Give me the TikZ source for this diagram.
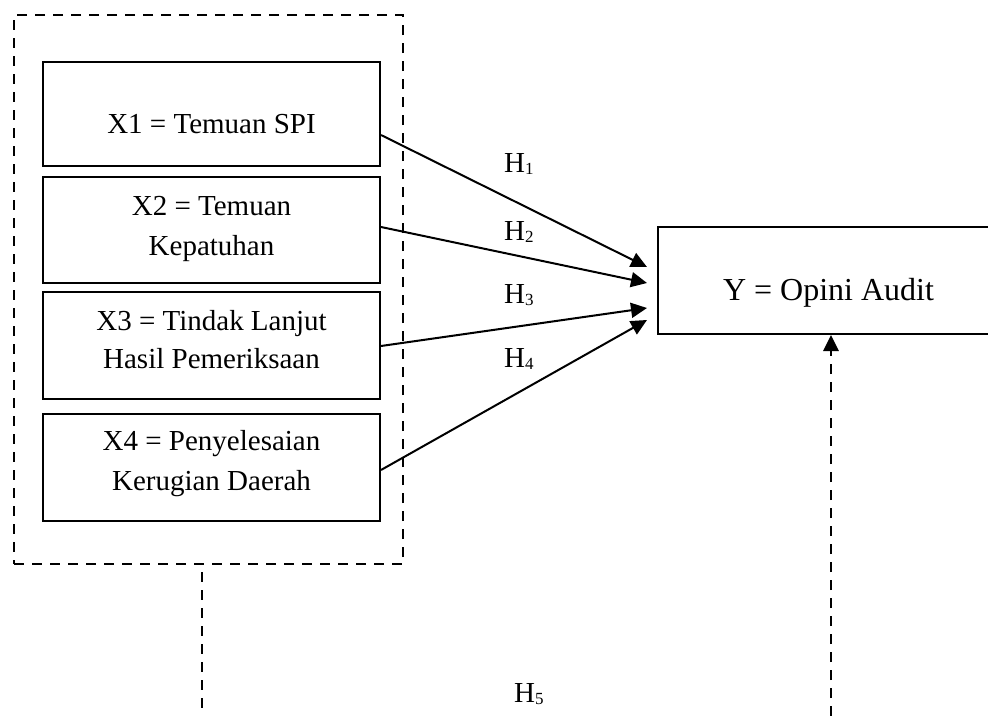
\documentclass[tikz,border=0pt]{standalone}
\usepackage{fontspec}
\setmainfont{Liberation Serif}
\usetikzlibrary{arrows.meta}
\newcommand{\hsub}[1]{H\raisebox{-2.5pt}{\fontsize{17}{17}\selectfont #1}}
\begin{document}
\begin{tikzpicture}[x=1pt,y=-1pt,
  box/.style={draw, line width=2pt, inner sep=0pt},
  lbl/.style={anchor=base, inner sep=0pt, font=\fontsize{29}{39}\selectfont},
  hl/.style={anchor=base west, inner sep=0pt, font=\fontsize{29}{39}\selectfont},
  arr/.style={line width=2pt, -{Triangle[length=16pt,width=15pt]}},
  dsh/.style={line width=2.8pt, dash pattern=on 10pt off 8pt}]
\clip (0,0) rectangle (988,715);
\useasboundingbox (0,0) rectangle (988,715);

% group (dashed)
\node[draw, dsh, inner sep=0pt, minimum width=389pt, minimum height=549pt] (grp) at (208.5,289.5) {};

% boxes
\node[box, minimum width=337pt, minimum height=104pt] (x1) at (211.5,114) {};
\node[box, minimum width=337pt, minimum height=106pt] (x2) at (211.5,230) {};
\node[box, minimum width=337pt, minimum height=107pt] (x3) at (211.5,345.5) {};
\node[box, minimum width=337pt, minimum height=107pt] (x4) at (211.5,467.5) {};
\node[box, minimum width=342pt, minimum height=107pt] (yb) at (829,280.5) {};

% texts
\node[lbl] (t1) at (211.5,133) {X1 = Temuan SPI};
\node[lbl] (t2a) at (211.5,215) {X2 = Temuan};
\node[lbl] (t2b) at (211.5,255) {Kepatuhan};
\node[lbl] (t3a) at (211.5,330) {X3 = Tindak Lanjut};
\node[lbl] (t3b) at (211.5,368) {Hasil Pemeriksaan};
\node[lbl] (t4a) at (211.5,450) {X4 = Penyelesaian};
\node[lbl] (t4b) at (211.5,490) {Kerugian Daerah};
\node[lbl, font=\fontsize{32}{38}\selectfont] (ty) at (828.5,300) {Y = Opini Audit};

% hypothesis labels
\node[hl] (h1) at (504,172) {\hsub{1}};
\node[hl] (h2) at (504,240) {\hsub{2}};
\node[hl] (h3) at (504,303) {\hsub{3}};
\node[hl] (h4) at (504,367) {\hsub{4}};
\node[hl] (h5) at (514,702) {\hsub{5}};

% arrows
\draw[arr] ([yshift=-21pt]x1.east) -- ([xshift=-10pt,yshift=13.5pt]yb.west);
\draw[arr] ([yshift=3pt]x2.east) -- ([xshift=-10pt,yshift=-2.5pt]yb.west);
\draw[arr] ([yshift=-0.5pt]x3.east) -- ([xshift=-10pt,yshift=-27.5pt]yb.west);
\draw[arr] ([yshift=-2.5pt]x4.east) -- ([xshift=-10pt,yshift=-39.5pt]yb.west);

% bottom dashed connectors
\coordinate (b1s) at (202,572);
\coordinate (b1) at (202,716);
\coordinate (b2) at (831,716);
\draw[dsh] (b1s) -- (b1);
\draw[dsh, -{Triangle[length=16pt,width=15pt]}] (b2) -- (yb.south -| b2);
\end{tikzpicture}
\end{document}
